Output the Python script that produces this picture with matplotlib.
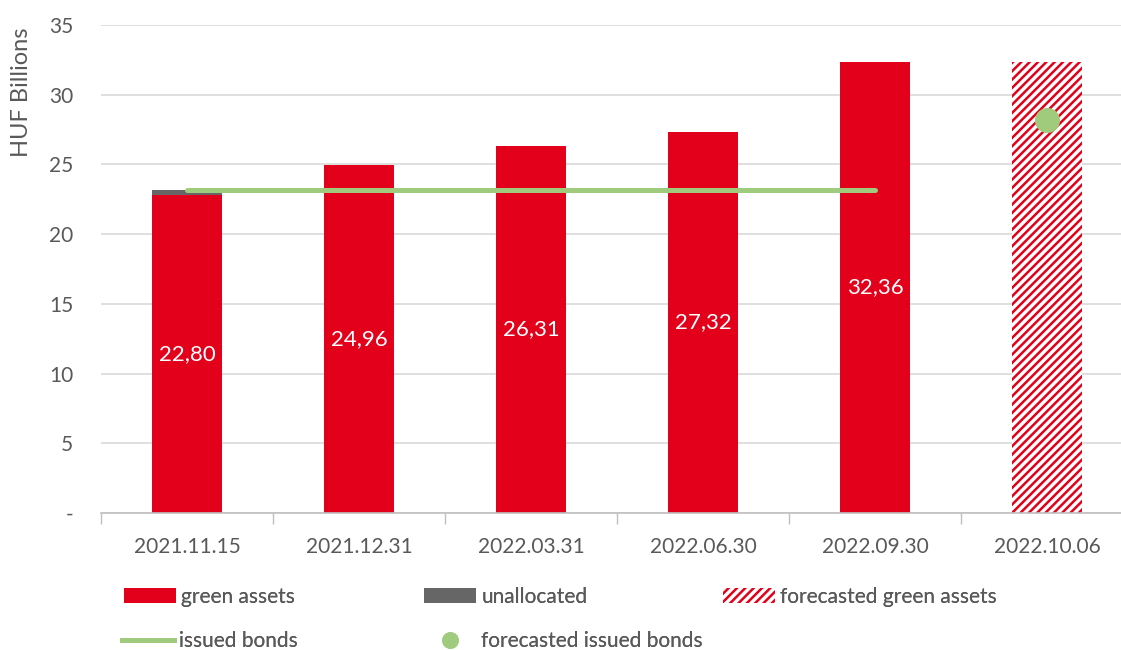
import matplotlib.pyplot as plt
from matplotlib.patches import Patch
from matplotlib.lines import Line2D

# Данные
dates = ['2021.11.15', '2021.12.31', '2022.03.31', '2022.06.30', '2022.09.30', '2022.10.06']
green_assets = [22.80, 24.96, 26.31, 27.32, 32.36]
unallocated = [0.40, 0.0, 0.0, 0.0, 0.0]
issued_bonds = [23.2, 23.2, 23.2, 23.2, 23.2]
forecast_green = 32.36
forecast_bonds = 28.2

RED = '#E2001A'
GREY = '#666666'
GREEN = '#A0CB7C'
TEXT = '#595959'

plt.rcParams['font.family'] = ['Lato', 'DejaVu Sans']
plt.rcParams['hatch.linewidth'] = 1.8

W, H = 1121, 650
fig = plt.figure(figsize=(W / 100, H / 100), dpi=100)
ax = fig.add_axes([101 / W, 1 - 513 / H, 1 - 101 / W, (513 - 25) / H])

x = list(range(len(green_assets)))
bar_w = 0.405

ax.bar(x, green_assets, width=bar_w, color=RED, zorder=2)
ax.bar(x, unallocated, width=bar_w, bottom=green_assets, color=GREY, zorder=2)
ax.bar([5], [forecast_green], width=bar_w, color='white', edgecolor=RED,
       hatch='////', linewidth=0, zorder=2)
ax.plot(x, issued_bonds, color=GREEN, linewidth=3.6, solid_capstyle='round', zorder=3)
ax.plot([5], [forecast_bonds], 'o', color=GREEN, markersize=17, zorder=3)

# Подписи значений
for xi, v in zip(x, green_assets):
    ax.text(xi, v / 2, '{:.2f}'.format(v).replace('.', ','), ha='center', va='center',
            color='white', fontsize=16)

# Оси
ax.set_yticks(range(0, 36, 5))
ax.set_yticklabels(['-'] + [str(v) for v in range(5, 36, 5)])
ax.set_xticks(range(len(dates)))
ax.set_xticklabels(dates)
ax.set_xticks([i - 0.5 for i in range(len(dates))], minor=True)
ax.set_xlim(-0.5, -0.5 + (W - 101) / 172)
ax.set_ylim(0, 35)
ax.tick_params(axis='x', which='major', length=0, pad=17, labelsize=15, labelcolor=TEXT)
ax.tick_params(axis='x', which='minor', length=8, color='#bfbfbf', width=1)
ax.tick_params(axis='y', length=0, pad=20, labelsize=15, labelcolor=TEXT)
ax.grid(axis='y', color='#d9d9d9', linewidth=1.2, zorder=0)
ax.set_axisbelow(True)
for s in ['top', 'right', 'left']:
    ax.spines[s].set_visible(False)
ax.spines['bottom'].set_color('#bfbfbf')
ax.spines['bottom'].set_linewidth(1.2)

ax.set_ylabel('HUF Billions', fontsize=17, color=TEXT)
ax.yaxis.set_label_coords(-0.068, 0.862)

# Легенда
legend_items = [
    (Patch(facecolor=RED), 'green assets', 124, 597),
    (Patch(facecolor=GREY), 'unallocated', 424, 597),
    (Patch(facecolor='white', edgecolor=RED, hatch='////', linewidth=0), 'forecasted green assets', 723, 597),
    (Line2D([], [], color=GREEN, linewidth=3.6), 'issued bonds', 122, 641),
    (Line2D([], [], color=GREEN, marker='o', linestyle='none', markersize=11), 'forecasted issued bonds', 424, 641),
]
for handle, label, px, py in legend_items:
    leg = fig.legend([handle], [label], loc='center left', bbox_to_anchor=(px / W, 1 - py / H),
                     frameon=False, fontsize=15, handlelength=2.5, handleheight=0.7,
                     handletextpad=0.25, borderpad=0, borderaxespad=0, labelcolor=TEXT)
    fig.add_artist(leg)

fig.savefig('out.png', dpi=100)
